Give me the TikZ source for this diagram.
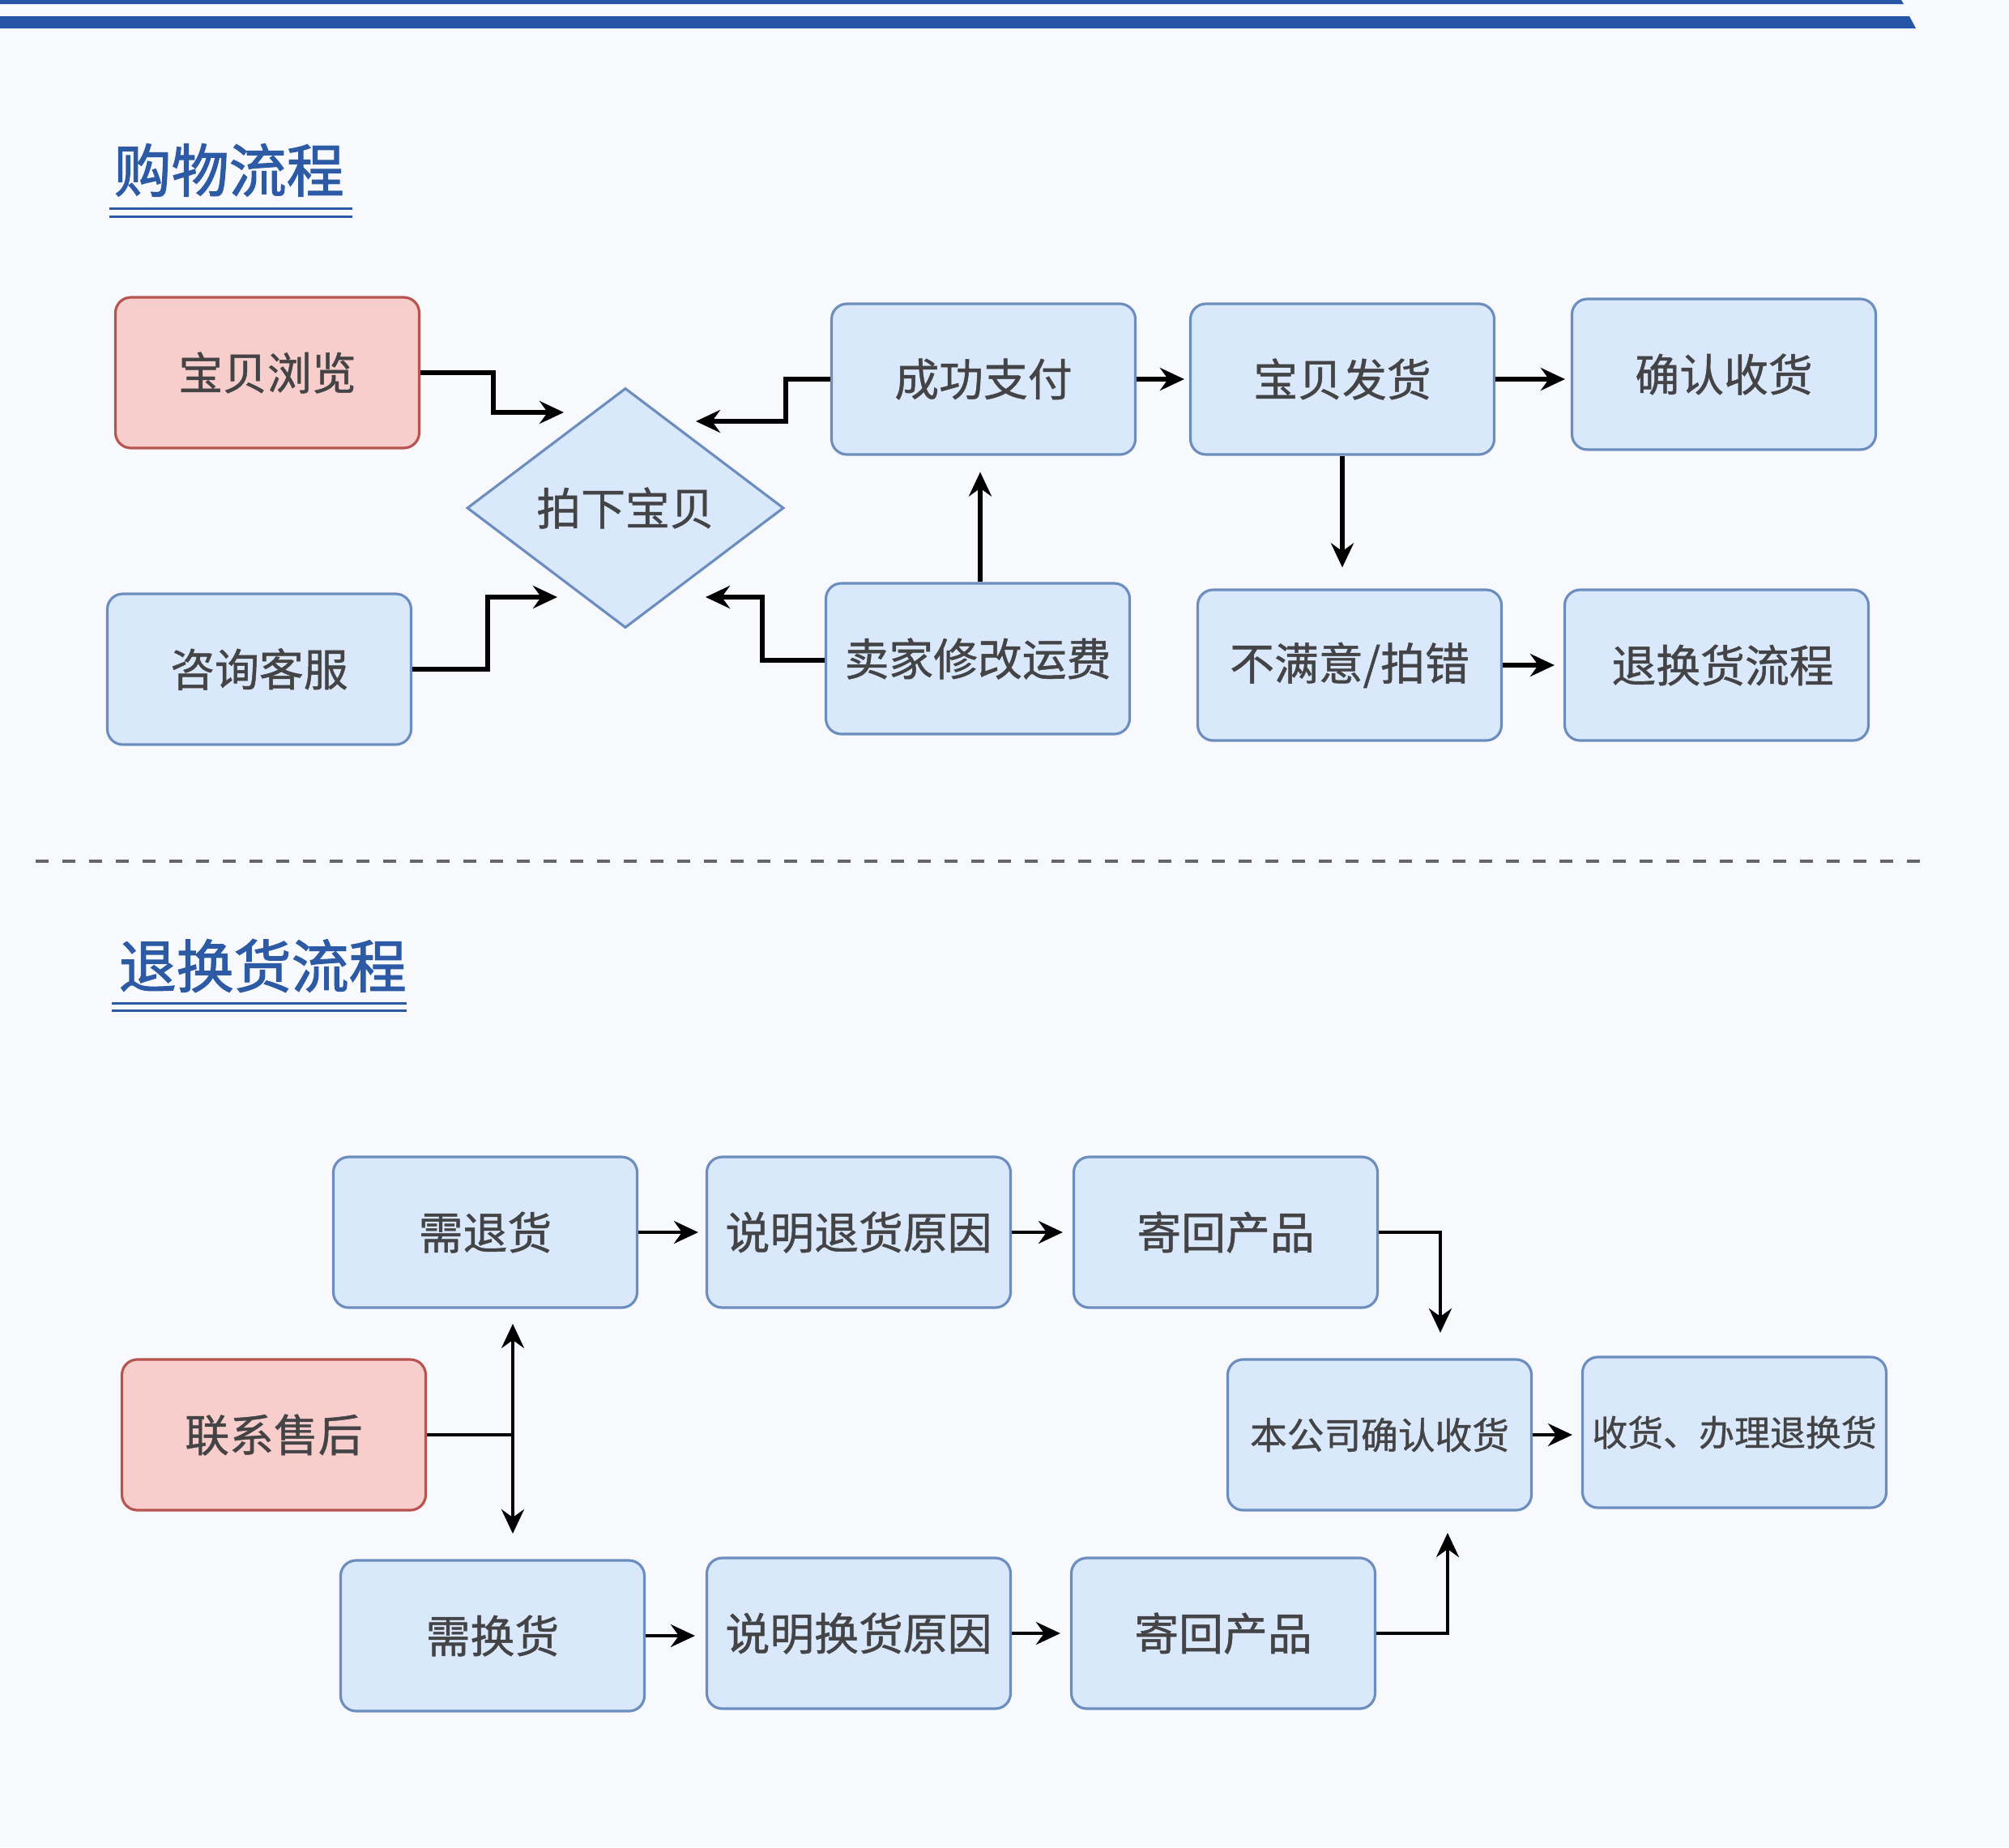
\documentclass[tikz,border=0pt]{standalone}
\usepackage{fontspec}
\newfontfamily\cjk{Noto Sans CJK SC}[FakeBold=0.9]
\newfontfamily\cjktitle{Noto Sans CJK SC}[FakeBold=1.6]
\usetikzlibrary{arrows.meta,calc,shapes.geometric}

\definecolor{barblue}{RGB}{38,84,166}
\definecolor{titleblue}{RGB}{44,90,165}
\definecolor{boxfill}{RGB}{218,232,252}
\definecolor{boxline}{RGB}{108,142,191}
\definecolor{redfill}{RGB}{248,206,204}
\definecolor{redline}{RGB}{184,84,80}
\definecolor{txtgray}{RGB}{68,68,70}
\definecolor{bgcol}{RGB}{248,249,253}

\tikzset{
  box/.style={draw=boxline, fill=boxfill, line width=0.9pt, rounded corners=0.19cm,
    minimum width=3.75cm, minimum height=1.86cm, inner sep=0pt, text=txtgray,
    font=\cjk\fontsize{15.6}{18}\selectfont},
  redbox/.style={box, draw=redline, fill=redfill},
  smalltext/.style={font=\cjk\fontsize{13}{15}\selectfont},
  arr/.style={draw, line width=1.5pt, -{Stealth[length=0.3cm, width=0.28cm, inset=0.1cm]}},
  arrthin/.style={arr, line width=1.2pt},
  titletext/.style={anchor=west, inner sep=0pt, text=titleblue, font=\cjktitle\fontsize{20.2}{24}\selectfont},
  underline/.style={draw=titleblue, line width=0.85pt}
}

\begin{document}
\begin{tikzpicture}
        \useasboundingbox (0,0) rectangle (24.8,-22.8);
        \fill[bgcol] (0,0) rectangle (24.8,-22.8);
        % top bars
        \fill[barblue] (0,0) -- (23.47,0) -- (23.50,-0.05) -- (0,-0.05) -- cycle;
        \fill[barblue] (0,-0.20) -- (23.57,-0.20) -- (23.65,-0.35) -- (0,-0.35) -- cycle;
        % titles
        \node[titletext] (T1) at (1.40,-2.10) {购物流程};
        \path[underline] (1.35,-2.57) to (4.35,-2.57);
        \path[underline] (1.35,-2.67) to (4.35,-2.67);
        \node[titletext] (T2) at (1.46,-11.92) {退换货流程};
        \path[underline] (1.38,-12.38) to (5.02,-12.38);
        \path[underline] (1.38,-12.47) to (5.02,-12.47);
        % separator
        \path[draw, line width=1.2pt, gray!80!black, dash pattern=on 0.16cm off 0.17cm] (0.44,-10.63) to (23.81,-10.63);

        % shopping flow
        \node[redbox] (B1) at (3.30,-4.60) {宝贝浏览};
        \node[box] (B2) at (3.20,-8.26) {咨询客服};
        \node[box, shape=diamond, rounded corners=0pt, minimum width=3.91cm, minimum height=2.96cm] (D) at (7.72,-6.27) {拍下宝贝};
        \node[box] (B3) at (12.14,-4.68) {成功支付};
        \node[box] (B4) at (16.57,-4.68) {宝贝发货};
        \node[box] (B5) at (21.28,-4.62) {确认收货};
        \node[box] (B6) at (12.07,-8.13) {卖家修改运费};
        \node[box] (B7) at (16.66,-8.21) {不满意/拍错};
        \node[box] (B8) at (21.19,-8.21) {\hspace{0.15cm}退换货流程};

        \coordinate(K1)at(6.96,-5.09);
        \coordinate(K2)at(6.88,-7.37);
        \coordinate(K3)at(8.59,-5.20);
        \coordinate(K4)at(8.71,-7.37);
        \path[arr](B1.east)--++(0.9,0)|-(K1);
        \path[arr](B2.east)--++(0.93,0)|-(K2);
        \path[arr](B3.west)--++(-0.55,0)|-(K3);
        \path[arr]($(B6.west)+(0,-0.02)$)--++(-0.77,0)|-(K4);
        \path[arr, shorten >=0.2cm]($(B6.north)+(0.03,0)$)to($(B6.north|-B3.south)+(0.03,0)$);
        \path[arr, shorten >=0.06cm](B3.east)to(B3.east-|B4.west);
        \path[arr, shorten >=0.07cm](B4.east)to(B4.east-|B5.west);
        \path[arr, shorten >=0.26cm](B4.south)to(B4.south|-B7.north);
        \path[arr, shorten >=0.11cm](B7.east)to(B8.west);

        % return flow
        \node[box] (R1) at (5.99,-15.21) {需退货};
        \node[box] (R2) at (10.60,-15.21) {说明退货原因};
        \node[box] (R3) at (15.13,-15.21) {寄回产品};
        \node[redbox] (C1) at (3.38,-17.71) {联系售后};
        \node[box, smalltext] (C2) at (17.03,-17.71) {本公司确认收货};
        \node[box, font=\cjk\fontsize{12.5}{15}\selectfont] (C3) at (21.41,-17.68) {收货、办理退换货};
        \node[box] (E1) at (6.08,-20.19) {需换货};
        \node[box] (E2) at (10.60,-20.16) {说明换货原因};
        \node[box] (E3) at (15.10,-20.16) {寄回产品};

        \coordinate(J)at(6.33,-17.71);
        \coordinate(J1)at(6.33,-16.34);
        \coordinate(J2)at(6.33,-18.93);
        \coordinate(K6)at(17.78,-16.45);
        \coordinate(K7)at(17.87,-18.92);
        \path[draw, line width=1.2pt](C1.east)to(J);
        \path[draw, line width=1.2pt, {Stealth[length=0.3cm, width=0.28cm, inset=0.1cm]}-{Stealth[length=0.3cm, width=0.28cm, inset=0.1cm]}](J1)to(J2);
        \path[arrthin, shorten >=0.09cm](R1.east)to(R2.west);
        \path[arrthin, shorten >=0.12cm](R2.east)to(R3.west);
        \path[arrthin](R3.east)-|(K6);
        \path[arrthin](E3.east)-|(K7);
        \path[arrthin, shorten >=0.11cm](C2.east)to(C2.east-|C3.west);
        \path[arrthin, shorten >=0.13cm](E1.east)to(E1.east-|E2.west);
        \path[arrthin, shorten >=0.12cm](E2.east)to(E3.west);
\end{tikzpicture}
\end{document}
